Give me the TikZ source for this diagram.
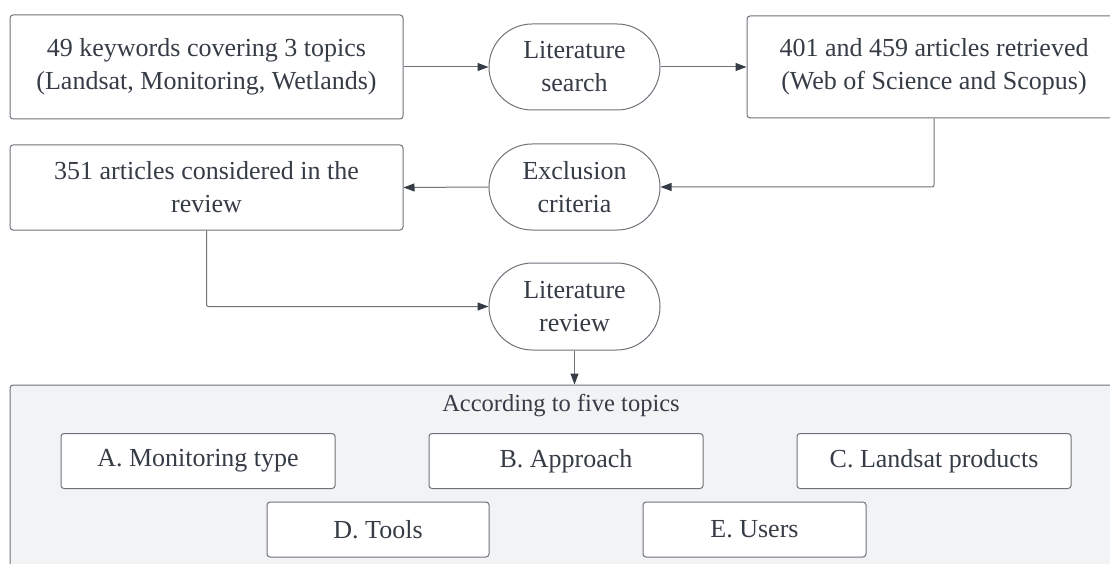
\documentclass[tikz,border=0pt]{standalone}
\usepackage{fontspec}
\setmainfont{Liberation Serif}
\usetikzlibrary{positioning, calc, arrows.meta}
\definecolor{inkgray}{HTML}{363C46}
\definecolor{edgegray}{HTML}{6E7279}
\definecolor{panelfill}{HTML}{F2F3F5}

\begin{document}
\begin{tikzpicture}[x=1pt,y=-1pt,>={Triangle[length=11pt,width=8pt,color=inkgray]}, line width=1pt,
  box/.style={draw=edgegray, fill=white, rounded corners=3pt, align=center, text=inkgray, font=\fontsize{26}{33}\selectfont, inner sep=0pt},
  pill/.style={box, rounded corners=43pt, minimum width=171pt, minimum height=86pt},
  topic/.style={box, minimum height=55pt},
  link/.style={->, draw=edgegray, rounded corners=2pt}]
  \useasboundingbox (0,0) rectangle (1110,564);
  \node[box, minimum width=393pt, minimum height=104pt] (keywords) at (206.5,67) {49 keywords covering 3 topics\\(Landsat, Monitoring, Wetlands)};
  \node[pill] (search) at (574.5,67) {Literature\\search};
  \node[box, minimum width=374pt, minimum height=102pt] (retrieved) at (934,67) {401 and 459 articles retrieved\\(Web of Science and Scopus)};
  \node[box, minimum width=393pt, minimum height=85pt] (considered) at (206.5,187.5) {351 articles considered in the\\review};
  \node[pill] (exclusion) at (574.5,187) {Exclusion\\criteria};
  \node[pill, minimum height=87pt, rounded corners=43.5pt] (review) at (574.5,306.5) {Literature\\review};
  % five topics panel
  \node[draw=edgegray, fill=panelfill, rounded corners=3pt, minimum width=1111pt, minimum height=190pt, inner sep=0pt] (panel) at (565.5,480) {};
  \node[text=inkgray, font=\fontsize{24.5}{29}\selectfont, inner sep=0pt] (panelhead) at (561,406) {According to five topics};
  \node[topic, minimum width=274pt] (monitoring) at (198,461) {A. Monitoring type};
  \node[topic, minimum width=274pt] (approach) at (566,461) {B. Approach};
  \node[topic, minimum width=274pt] (products) at (934,461) {C. Landsat products};
  \node[topic, minimum width=222pt] (tools) at (378,529.5) {D. Tools};
  \node[topic, minimum width=223pt] (users) at (754.5,529.5) {E. Users};
  \draw[link] (keywords.east) -- (search.west);
  \draw[link] (search.east) -- (retrieved.west);
  \draw[link] (retrieved.south) |- (exclusion.east);
  \draw[link] (exclusion.west) -- (considered.east);
  \draw[link] (considered.south) |- (review.west);
  \draw[link] (review.south) -- (review.south |- panel.north);
\end{tikzpicture}
\end{document}
